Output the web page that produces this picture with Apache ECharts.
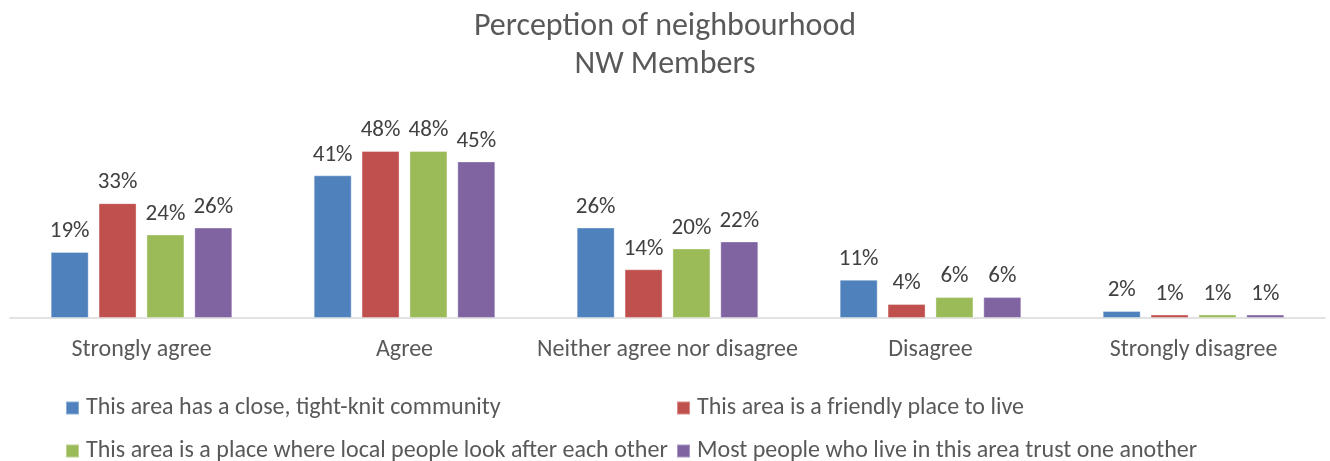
<!DOCTYPE html>
<html>
<head>
<meta charset="utf-8">
<script src="https://cdn.jsdelivr.net/npm/echarts@6/dist/echarts.min.js"></script>
<style>
  html, body { margin: 0; padding: 0; background: #fff; }
  #chart { width: 1330px; height: 461px; }
</style>
</head>
<body>
<div id="chart"></div>
<script>
// Survey responses, percent of NW members per answer
const categories = ['Strongly agree', 'Agree', 'Neither agree nor disagree', 'Disagree', 'Strongly disagree'];
const seriesNames = [
  'This area has a close, tight-knit community',
  'This area is a friendly place to live',
  'This area is a place where local people look after each other',
  'Most people who live in this area trust one another'
];
const closeCommunity = [19, 41, 26, 11, 2];
const friendlyPlace = [33, 48, 14, 4, 1];
const lookAfterEachOther = [24, 48, 20, 6, 1];
const trustOneAnother = [26, 45, 22, 6, 1];
const seriesValues = [closeCommunity, friendlyPlace, lookAfterEachOther, trustOneAnother];
const colors = ['#4F81BD', '#C0504D', '#9BBB59', '#8064A2'];

const FONT = "Carlito, 'Liberation Sans Narrow', 'Open Sans', sans-serif";

const chart = echarts.init(document.getElementById('chart'), null, { renderer: 'canvas' });

// one legend per entry, laid out as a 2x2 grid
const legendPos = [
  { left: 65, top: 396 },
  { left: 676, top: 396 },
  { left: 65, top: 439 },
  { left: 676, top: 439 }
];

chart.setOption({
  animation: false,
  backgroundColor: '#ffffff',
  title: {
    text: 'Perception of neighbourhood\nNW Members',
    left: 'center',
    top: 3,
    textStyle: {
      fontFamily: FONT,
      fontSize: 32,
      fontWeight: 'normal',
      color: '#595959',
      lineHeight: 38
    }
  },
  legend: seriesNames.map((name, i) => ({
    data: [name],
    left: legendPos[i].left,
    top: legendPos[i].top,
    padding: 0,
    icon: 'rect',
    itemWidth: 13,
    itemHeight: 13,
    selectedMode: false,
    textStyle: { fontFamily: FONT, fontSize: 24, color: '#595959', padding: [0, 0, 0, 2] }
  })),
  grid: { left: 10, right: 5, top: 144, bottom: 143, containLabel: false },
  xAxis: {
    type: 'category',
    data: categories,
    axisLine: { lineStyle: { color: '#d9d9d9', width: 1.5 } },
    axisTick: { show: false },
    axisLabel: { fontFamily: FONT, fontSize: 24, color: '#595959', margin: 20, interval: 0 }
  },
  yAxis: {
    type: 'value',
    min: 0,
    max: 50,
    show: false,
    splitLine: { show: false }
  },
  series: seriesValues.map((vals, i) => ({
    name: seriesNames[i],
    type: 'bar',
    data: vals,
    barWidth: 38,
    barGap: '26%',
    itemStyle: { color: colors[i], borderColor: 'rgba(255,255,255,0.35)', borderWidth: 1 },
    label: {
      show: true,
      position: 'top',
      distance: 9,
      formatter: '{c}%',
      fontFamily: FONT,
      fontSize: 23,
      color: '#404040'
    }
  }))
});
</script>
</body>
</html>
